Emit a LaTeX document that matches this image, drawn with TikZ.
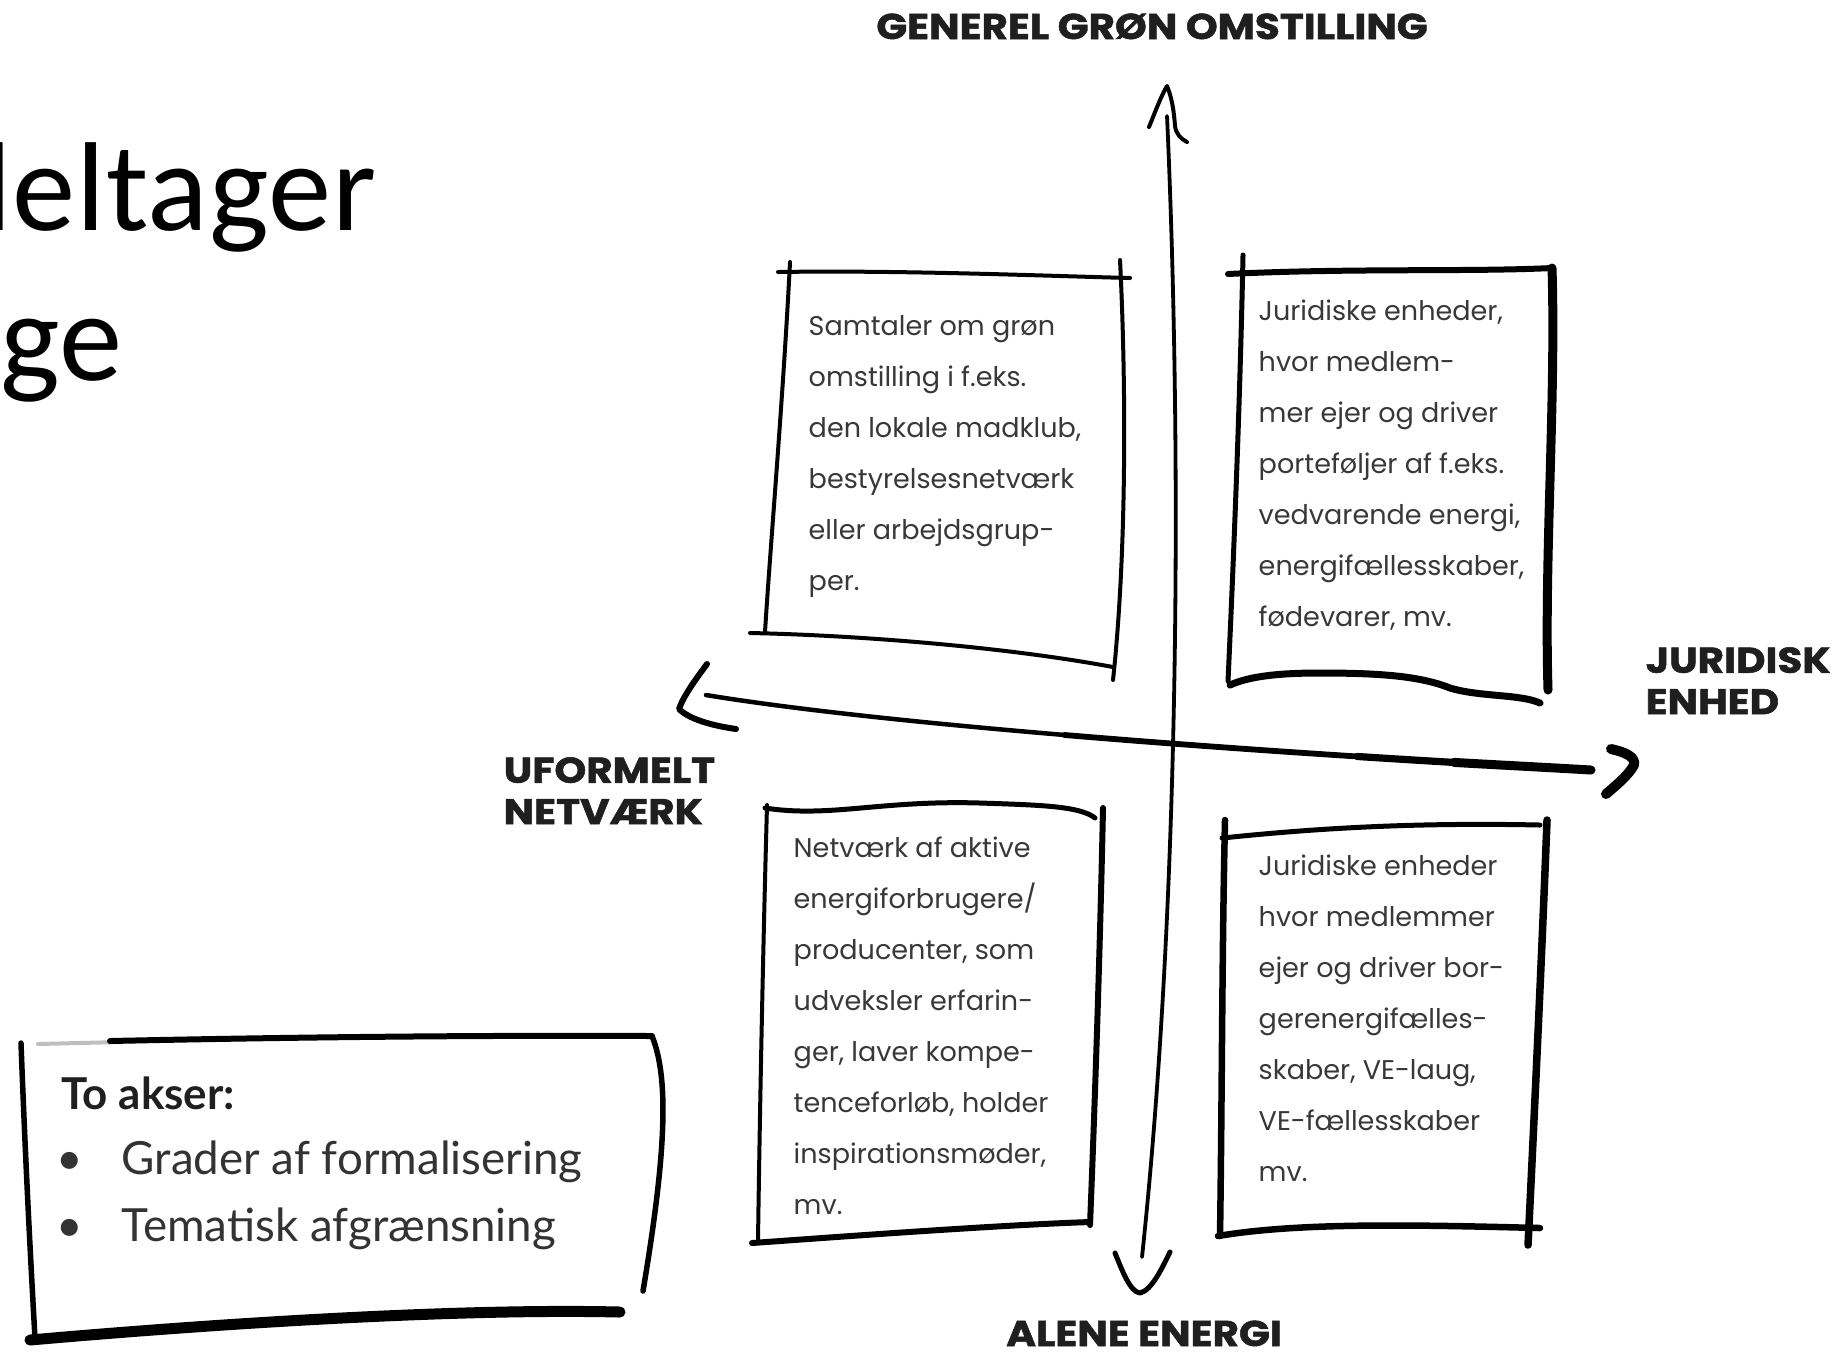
\documentclass[tikz,border=0pt]{standalone}
\usepackage{fontspec}
\setmainfont{Lato}
\newfontfamily\quadfont{Poppins}
\newfontfamily\axisfont{Poppins}[FakeStretch=1.13, BoldFeatures={FakeBold=1.5}]
\newfontfamily\slidefont{Carlito}
\usetikzlibrary{positioning}

\begin{document}
\begin{tikzpicture}[
  x=0.1mm, y=-0.1mm,
  pen/.style={line width=0.4mm, line cap=round, line join=round},
  inkpen/.style={pen, line width=0.6mm},
  heavypen/.style={pen, line width=0.9mm},
  quad/.style={anchor=north west, inner sep=0pt, align=left, text=black!78,
               font=\quadfont\fontsize{7.7}{14.5}\selectfont},
  axislabel/.style={inner sep=0pt, align=left, text=black!88,
               font=\axisfont\bfseries\fontsize{10.2}{11.8}\selectfont},
  slide/.style={inner sep=0pt, font=\slidefont\fontsize{36}{40}\selectfont},
  legend/.style={inner sep=0pt, anchor=base west, text=black!80,
               font=\fontsize{13}{16}\selectfont},
]
\useasboundingbox (0,0) rectangle (1841,1352);
\clip (0,0) rectangle (1841,1352);

\node[slide, anchor=base east] (title1) at (377,230) {\addfontfeatures{LetterSpace=0.6}deltager};
\node[slide, anchor=base west] (title2) at (0,380) {ge};

% axes
\coordinate (ntop) at (1167,116);
\coordinate (nbot) at (1142,1257);
\coordinate (wend) at (706,695);
\coordinate (eend) at (1591,770);
\draw[pen, line width=0.38mm] (ntop) .. controls (1182,450) and (1180,900) .. (nbot);
\draw[pen, line width=0.45mm] (wend) .. controls (900,727) and (1300,755) .. (eend);
\draw[pen, line width=0.58mm] (1064.3,734.95) .. controls (1237.9,749.57) and (1430.95,761.75) .. (eend);
\draw[pen, line width=0.72mm] (1357.25,756.46) .. controls (1438.7,761.69) and (1518.25,766.25) .. (eend);
\draw[pen, line width=0.9mm] (1454,762.4) .. controls (1500,765) and (1550,767.6) .. (eend);
\draw[pen] (1149,127) .. controls (1155,112) and (1162,94) .. (1167,86)
  .. controls (1172,98) and (1174,112) .. (1175,126)
  .. controls (1176,134) and (1181,139) .. (1187,142);
\draw[pen, line width=0.5mm] (1115,1253) .. controls (1122,1270) and (1130,1292) .. (1140,1293)
  .. controls (1152,1290) and (1162,1268) .. (1170,1252);
\draw[inkpen] (707,664) .. controls (695,680) and (683,697) .. (679,709)
  .. controls (690,720) and (715,726) .. (736,729);
\draw[heavypen, line width=1mm] (1611,749) .. controls (1625,752) and (1636,757) .. (1634,765)
  .. controls (1628,776) and (1614,787) .. (1606,794);

% boxes
\draw[pen] (778,272) .. controls (900,270) and (1050,276) .. (1130,278);
\draw[pen] (790,262) .. controls (783,400) and (770,550) .. (765,632);
\draw[pen] (750,633) .. controls (850,635) and (1000,646) .. (1113,667);
\draw[pen] (1120,260) .. controls (1126,380) and (1127,550) .. (1113,680);

\draw[pen, line width=0.5mm] (1243,255) .. controls (1240,400) and (1234,550) .. (1228,681);
\draw[inkpen] (1228,274) .. controls (1350,268) and (1470,272) .. (1552,268);
\draw[heavypen] (1552,268) .. controls (1556,400) and (1544,560) .. (1548,690);
\draw[inkpen, line width=0.7mm] (1230,685) .. controls (1250,676) and (1280,673) .. (1320,673)
  .. controls (1380,673) and (1420,676) .. (1450,688)
  .. controls (1480,697) and (1520,694) .. (1540,703);

\draw[inkpen, line width=0.5mm] (765,808) .. controls (830,818) and (880,800) .. (980,803)
  .. controls (1040,805) and (1080,806) .. (1095,818);
\draw[pen] (767,805) .. controls (763,950) and (760,1100) .. (758,1240);
\draw[inkpen] (1103,808) .. controls (1100,950) and (1095,1100) .. (1090,1225);
\draw[inkpen] (752,1243) .. controls (850,1236) and (1000,1225) .. (1090,1222);

\draw[pen, line width=0.5mm] (1222,838) .. controls (1300,830) and (1400,822) .. (1540,825);
\draw[inkpen, line width=0.65mm] (1225,820) .. controls (1222,950) and (1222,1100) .. (1220,1236);
\draw[inkpen, line width=0.75mm] (1547,820) .. controls (1542,950) and (1535,1100) .. (1528,1245);
\draw[inkpen, line width=0.65mm] (1218,1236) .. controls (1300,1222) and (1420,1225) .. (1540,1228);

\node[quad] (sam) at (808,299.3) {\strut Samtaler om grøn\\ omstilling i f.eks.\\ den lokale madklub,\\
  bestyrelsesnetværk\\ eller arbejdsgrup-\\ per.};
\node[quad] (jur) at (1258,284.3) {\strut Juridiske enheder,\\ hvor medlem-\\ mer ejer og driver\\
  porteføljer af f.eks.\\ vedvarende energi,\\ energifællesskaber,\\ fødevarer, mv.};
\node[quad] (net) at (793,821.3) {\strut Netværk af aktive\\ energiforbrugere/\\ producenter, som\\
  udveksler erfarin-\\ ger, laver kompe-\\ tenceforløb, holder\\ inspirationsmøder,\\ mv.};
\node[quad] (bor) at (1258,839.3) {\strut Juridiske enheder\\ hvor medlemmer\\ ejer og driver bor-\\
  gerenergifælles-\\ skaber, VE-laug,\\ VE-fællesskaber\\ mv.};

\node[axislabel, anchor=base] (gen) at (1152,39) {GENEREL GRØN OMSTILLING};
\node[axislabel, anchor=base] (alene) at (1144,1346) {ALENE ENERGI};
\node[axislabel, anchor=north west] (jurid) at (1645,643) {\strut JURIDISK\\ ENHED};
\node[axislabel, anchor=north west] (uform) at (503,753) {\strut UFORMELT\\ NETVÆRK};

% legend
\draw[pen, black!25] (38,1044) -- (120,1042);
\draw[inkpen] (110,1041) .. controls (250,1038) and (450,1035) .. (652,1036);
\draw[inkpen, line width=0.55mm] (21,1043) .. controls (25,1150) and (30,1250) .. (35,1338);
\draw[inkpen, line width=0.55mm] (652,1036) .. controls (670,1080) and (665,1160) .. (643,1291);
\draw[heavypen, line width=1.1mm] (30,1340) .. controls (200,1325) and (450,1308) .. (620,1312);

\node[legend, font=\bfseries\fontsize{12.5}{15}\selectfont, text=black!88] (takser) at (61,1109) {To akser:};
\node[legend, anchor=base] (b1) at (70,1174) {•};
\node[legend] (g1) at (121,1174) {Grader af formalisering};
\node[legend, anchor=base] (b2) at (70,1241) {•};
\node[legend] (g2) at (121,1241) {Tematisk afgrænsning};
\end{tikzpicture}
\end{document}
